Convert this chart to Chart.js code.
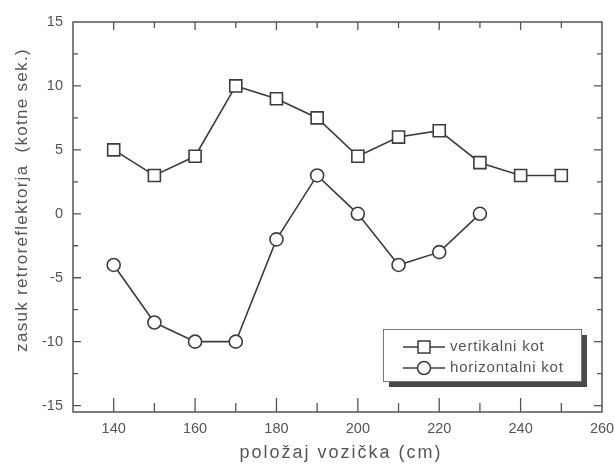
<!DOCTYPE html>
<html>
<head>
<meta charset="utf-8">
<script src="https://cdn.jsdelivr.net/npm/chart.js@4.4.1/dist/chart.umd.min.js"></script>
<style>
  html, body { margin: 0; padding: 0; background: #fff; }
  #wrap { width: 615px; height: 465px; position: relative; }
</style>
</head>
<body>
<div id="wrap"><canvas id="graf"></canvas></div>
<script>
//Podatki
const polozaj = [140, 150, 160, 170, 180, 190, 200, 210, 220, 230, 240, 250];
const vertikalni = [5, 3, 4.5, 10, 9, 7.5, 4.5, 6, 6.5, 4, 3, 3];
const horizontalni = [-4, -8.5, -10, -10, -2, 3, 0, -4, -3, 0];
const xTicks = [140, 160, 180, 200, 220, 240, 260];
const xMinor = [150, 170, 190, 210, 230, 250];
const yTicks = [-15, -10, -5, 0, 5, 10, 15];
const yMinor = [-12.5, -7.5, -2.5, 2.5, 7.5, 12.5];
const imena = ['vertikalni kot', 'horizontalni kot'];

const barvaCrte = '#3c3c3c';
const barvaTeksta = '#555';
const pisava = '"Liberation Sans", Arial, sans-serif';

//Okvir, notranje oznake, naslovi osi in legenda
const okvir = {
    id: 'okvir',
    afterDraw(chart) {
        const ctx = chart.ctx;
        const a = chart.chartArea;
        const xs = chart.scales.x;
        const ys = chart.scales.y;
        ctx.save();
        ctx.strokeStyle = '#555';
        ctx.lineWidth = 1.5;
        ctx.strokeRect(a.left, a.top, a.right - a.left, a.bottom - a.top);

        ctx.lineWidth = 1.3;
        ctx.beginPath();
        xTicks.concat(xMinor).forEach(v => {
            const x = xs.getPixelForValue(v);
            if (x <= a.left + 1 || x >= a.right - 1) return;
            const major = xTicks.includes(v);
            ctx.moveTo(x, a.bottom); ctx.lineTo(x, a.bottom - (major ? 14 : 9));
            ctx.moveTo(x, a.top); ctx.lineTo(x, a.top + (major ? 8 : 6));
        });
        yTicks.concat(yMinor).forEach(v => {
            const y = ys.getPixelForValue(v);
            if (y <= a.top + 1 || y >= a.bottom - 1) return;
            const major = yTicks.includes(v);
            ctx.moveTo(a.left, y); ctx.lineTo(a.left + (major ? 8 : 5), y);
            ctx.moveTo(a.right, y); ctx.lineTo(a.right - (major ? 8 : 5), y);
        });
        ctx.stroke();

        //naslovi osi
        ctx.fillStyle = barvaTeksta;
        ctx.textAlign = 'center';
        ctx.textBaseline = 'middle';
        ctx.font = '18px ' + pisava;
        ctx.letterSpacing = '2px';
        ctx.fillText('položaj vozička (cm)', 341, 453);
        ctx.save();
        ctx.translate(22, 200);
        ctx.rotate(-Math.PI / 2);
        ctx.font = '17px ' + pisava;
        ctx.letterSpacing = '1.3px';
        ctx.fillText('zasuk retroreflektorja  (kotne sek.)', 0, 0);
        ctx.restore();

        //legenda
        const L = 383, T = 329, W = 198, H = 52;
        ctx.fillStyle = '#4a4a4a';
        ctx.fillRect(L + 6, T + 6, W, H);
        ctx.fillStyle = '#fff';
        ctx.fillRect(L, T, W, H);
        ctx.strokeStyle = '#777';
        ctx.lineWidth = 1;
        ctx.strokeRect(L + 0.5, T + 0.5, W, H);

        const vrstice = [T + 18, T + 39];
        ctx.font = '15px ' + pisava;
        ctx.letterSpacing = '0.8px';
        ctx.textAlign = 'left';
        vrstice.forEach((y, i) => {
            ctx.strokeStyle = barvaCrte;
            ctx.lineWidth = 1.5;
            ctx.beginPath();
            ctx.moveTo(403, y); ctx.lineTo(445, y);
            ctx.stroke();
            ctx.fillStyle = '#fff';
            ctx.beginPath();
            if (i === 0) {
                ctx.rect(418, y - 6, 12, 12);
            } else {
                ctx.arc(424, y, 6.5, 0, Math.PI * 2);
            }
            ctx.fill();
            ctx.stroke();
            ctx.fillStyle = barvaTeksta;
            ctx.fillText(imena[i], 450, y);
        });
        ctx.restore();
    }
};

const data = {
    datasets: [{
        label: imena[0],
        data: polozaj.map((x, i) => ({ x: x, y: vertikalni[i] })),
        borderColor: barvaCrte,
        borderWidth: 1.6,
        pointStyle: 'rect',
        pointRadius: 8.5,
        pointBorderWidth: 1.6,
        pointBackgroundColor: '#fff',
        pointBorderColor: barvaCrte
    }, {
        label: imena[1],
        data: horizontalni.map((y, i) => ({ x: polozaj[i], y: y })),
        borderColor: barvaCrte,
        borderWidth: 1.6,
        pointStyle: 'circle',
        pointRadius: 6.5,
        pointBorderWidth: 1.6,
        pointBackgroundColor: '#fff',
        pointBorderColor: barvaCrte
    }]
};

const config = {
    type: 'line',
    data: data,
    plugins: [okvir],
    options: {
        responsive: true,
        maintainAspectRatio: false,
        animation: false,
        layout: { padding: { top: 22, right: 13, left: 0, bottom: 0 } },
        plugins: {
            legend: { display: false },
            tooltip: { enabled: false }
        },
        scales: {
            x: {
                type: 'linear',
                min: 130,
                max: 260,
                afterBuildTicks: s => { s.ticks = xTicks.map(v => ({ value: v })); },
                afterFit: s => { s.height = 53; },
                grid: { display: false },
                border: { display: false },
                ticks: {
                    color: barvaTeksta,
                    padding: 0,
                    maxRotation: 0,
                    font: { family: pisava, size: 14.5 }
                }
            },
            y: {
                type: 'linear',
                min: -15.5,
                max: 15,
                afterBuildTicks: s => { s.ticks = yTicks.map(v => ({ value: v })); },
                afterFit: s => { s.width = 73; },
                grid: { display: false },
                border: { display: false },
                ticks: {
                    color: barvaTeksta,
                    padding: 2,
                    font: { family: pisava, size: 14.5 }
                }
            }
        }
    }
};

new Chart(document.querySelector('#graf'), config);
</script>
</body>
</html>
